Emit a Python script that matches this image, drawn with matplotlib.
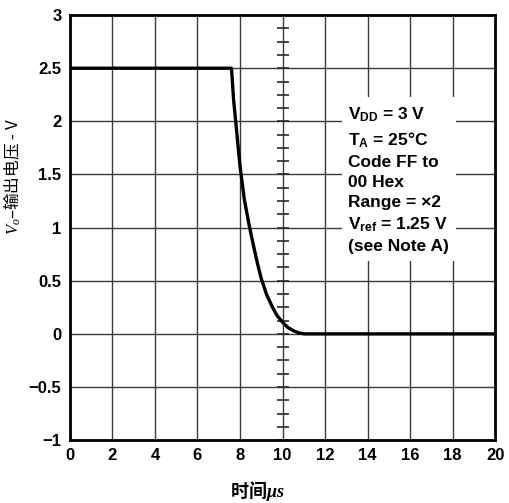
import numpy as np
import matplotlib
matplotlib.use("Agg")
import matplotlib.pyplot as plt

plt.rcParams['font.family'] = ['Liberation Sans', 'Noto Sans CJK SC', 'DejaVu Sans']
plt.rcParams['mathtext.fontset'] = 'custom'
plt.rcParams['mathtext.rm'] = 'Liberation Sans'
plt.rcParams['mathtext.it'] = 'Liberation Serif:italic'
plt.rcParams['mathtext.bf'] = 'Liberation Sans:bold'
plt.rcParams['mathtext.sf'] = 'Liberation Serif:bold:italic'

# output voltage vs time
time_us = [0, 7.6, 7.7, 7.8, 7.9, 8.0, 8.2, 8.4, 8.6, 8.8, 9.0, 9.25, 9.5,
           9.75, 10.0, 10.25, 10.5, 10.75, 11.0, 20]
vout = [2.5, 2.5, 2.2, 2.0, 1.78, 1.58, 1.27, 1.05, 0.86, 0.68, 0.52, 0.37,
        0.26, 0.17, 0.11, 0.06, 0.03, 0.01, 0.0, 0.0]

xticks = np.arange(0, 21, 2)
yticks = [-1, -0.5, 0, 0.5, 1, 1.5, 2, 2.5, 3]
ytick_labels = ['\u22121', '\u22120.5', '0', '0.5', '1', '1.5', '2', '2.5', '3']
minor_y = np.arange(-1, 3.001, 0.125)

fig = plt.figure(figsize=(5.10, 5.03), dpi=100)
ax = fig.add_axes([0.137, 0.125, 0.834, 0.845])

ax.set_xlim(0, 20)
ax.set_ylim(-1, 3)
ax.set_xticks(xticks)
ax.set_yticks(yticks)
ax.set_yticklabels(ytick_labels)
ax.tick_params(length=0, labelsize=12, pad=6)
for lab in ax.get_xticklabels() + ax.get_yticklabels():
    lab.set_fontweight('bold')
ax.grid(True, color='#3a3a3a', linewidth=1.0)
ax.set_axisbelow(True)
for sp in ax.spines.values():
    sp.set_linewidth(2.0)
    sp.set_color('black')

# small ticks along the x = 10 grid line
ax.plot(np.full(len(minor_y), 10), minor_y, linestyle='none', marker='_',
        markersize=9, markeredgewidth=1.2, color='#2a2a2a', zorder=2)

# smooth the read-off points a little for drawing
xs = np.linspace(0, 20, 801)
ys = np.interp(xs, time_us, vout)
ax.plot(xs, ys, color='black', linewidth=2.4, zorder=3)

note = ("V$_\\mathbf{DD}$ = 3 V\n"
        "T$_\\mathbf{A}$ = 25\u00b0C\n"
        "Code FF to\n"
        "00 Hex\n"
        "Range = \u00d72\n"
        "V$_\\mathbf{ref}$ = 1.25 V\n"
        "(see Note A)")
ax.text(13.1, 2.15, note, fontsize=12.5, fontweight='bold', va='top', ha='left',
        linespacing=1.42, zorder=4,
        bbox=dict(facecolor='white', edgecolor='none', pad=5))

ax.set_ylabel('$V_o$\u2013输出电压 - V', fontsize=12, family='Noto Sans CJK SC')
ax.yaxis.set_label_coords(-0.11, 0.62)
ax.set_xlabel('时间$\\mathsf{\\mu s}$', fontsize=13, fontweight='bold',
              family='Noto Sans CJK SC')
ax.xaxis.set_label_coords(0.44, -0.092)

fig.savefig('out.png', dpi=100)
